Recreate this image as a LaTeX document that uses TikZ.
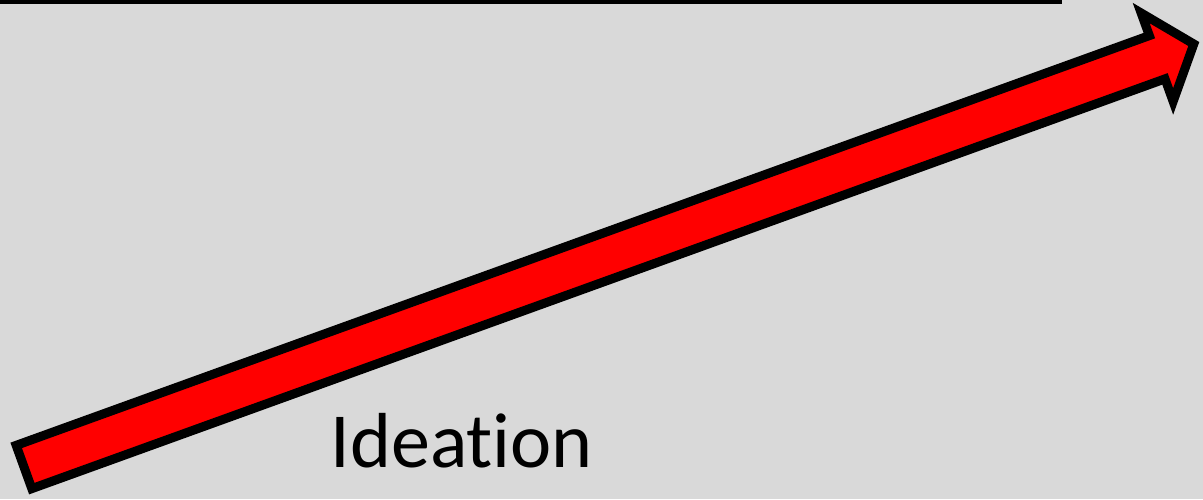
\documentclass[tikz,border=0pt]{standalone}
\usepackage{fontspec}
\setmainfont{Carlito}[Ligatures=NoCommon]
\usetikzlibrary{calc}
\definecolor{slidegray}{HTML}{D9D9D9}
\tikzset{
  bigarrow/.style={fill=red, draw=black, line width=0.09cm, line join=miter},
  toprule/.style={draw=black, line width=0.04cm},
  labeltext/.style={font=\fontsize{22.2}{27}\selectfont, inner sep=0pt, anchor=base west}
}

\begin{document}
\begin{tikzpicture}
  \fill[slidegray] (0,0) rectangle (12.03,4.99);
  \useasboundingbox (0,0) rectangle (12.03,4.99);

  % rule along the top edge
  \coordinate (ruleL) at (0,4.97);
  \coordinate (ruleR) at (10.62,4.97);
  \draw[toprule] (ruleL) -- (ruleR);

  % the rising arrow
  \begin{scope}[shift={(0.24,0.32)}, rotate=19.88]
    \coordinate (tail) at (0,0);
    \coordinate (tip) at (12.44,0);
    \draw[bigarrow] (0,-0.23) -- (12.05,-0.23) -- (12.05,-0.47) -- (tip)
      -- (12.05,0.47) -- (12.05,0.23) -- (0,0.23) -- cycle;
  \end{scope}

  \node[labeltext] (ideation) at (3.30,0.32) {Ideation};
\end{tikzpicture}
\end{document}
